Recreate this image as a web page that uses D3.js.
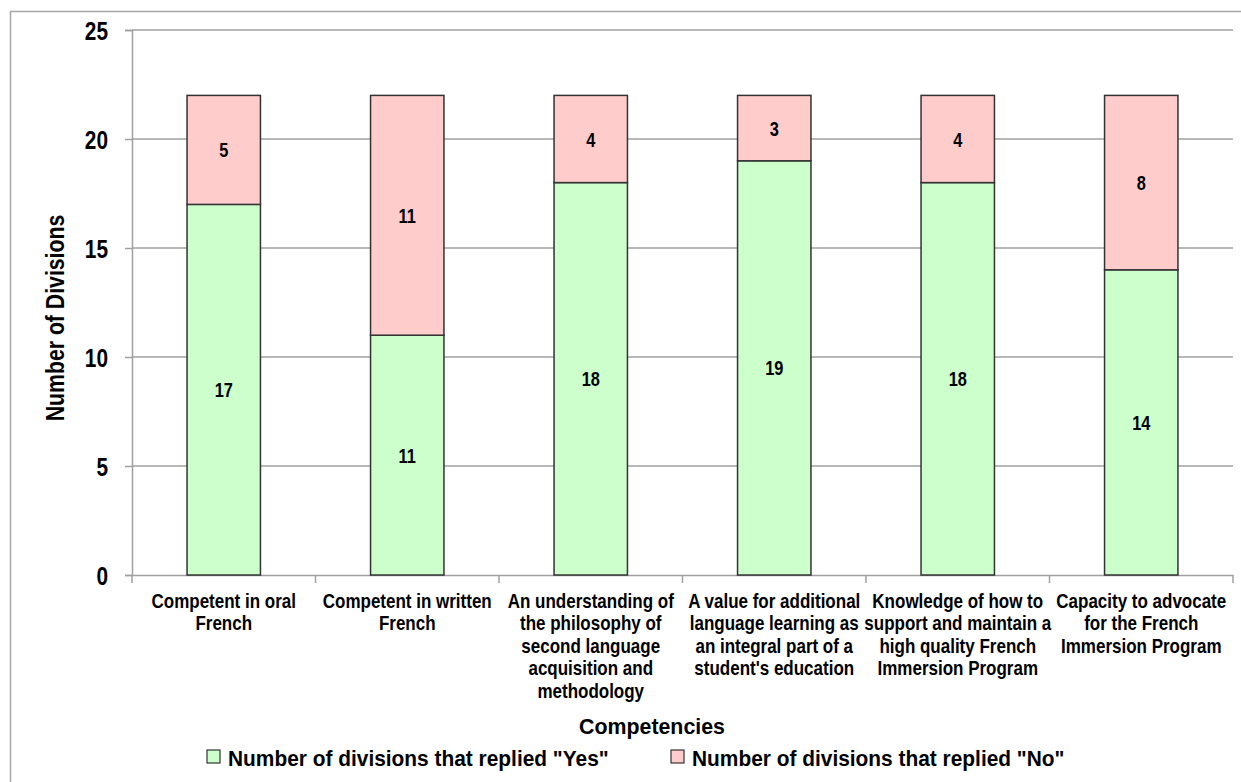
<!DOCTYPE html>
<html>
<head>
<meta charset="utf-8">
<script src="https://cdn.jsdelivr.net/npm/d3@7"></script>
<style>
  html, body { margin: 0; padding: 0; background: #fff; }
  svg { display: block; }
  text { font-family: "Liberation Sans", Arial, sans-serif; font-weight: bold; fill: #000; }
</style>
</head>
<body>
<svg id="chart" width="1241" height="782"></svg>
<script>
const categories = [
  "Competent in oral\nFrench",
  "Competent in written\nFrench",
  "An understanding of\nthe philosophy of\nsecond language\nacquisition and\nmethodology",
  "A value for additional\nlanguage learning as\nan integral part of a\nstudent's education",
  "Knowledge of how to\nsupport and maintain a\nhigh quality French\nImmersion Program",
  "Capacity to advocate\nfor the French\nImmersion Program"
];
const yesValues = [17, 11, 18, 19, 18, 14];
const noValues = [5, 11, 4, 3, 4, 8];
const seriesNames = ['Number of divisions that replied "Yes"', 'Number of divisions that replied "No"'];
const yTicks = [0, 5, 10, 15, 20, 25];
const xTitle = "Competencies";
const yTitle = "Number of Divisions";

const svg = d3.select("#chart");
const zeroY = 575;

// helper: condensed text (horizontal squash)
function label(parent, x, y, text, size, sx, anchor, lineH, rot) {
  const g = parent.append("g")
    .attr("transform", `translate(${x},${y})` + (rot ? ` rotate(${rot})` : "") + ` scale(${sx},1)`);
  const t = g.append("text").attr("text-anchor", anchor || "middle").style("font-size", size + "px");
  String(text).split("\n").forEach((line, j) => {
    t.append("tspan").attr("x", 0).attr("y", j * (lineH || 0)).text(line);
  });
  return g;
}

// outer border
svg.append("rect").attr("x", 10.5).attr("y", 11.5).attr("width", 1240).attr("height", 780)
  .attr("fill", "none").attr("stroke", "#a6a6a6").attr("stroke-width", 1.5);

const x = d3.scaleBand().domain(d3.range(categories.length)).range([132, 1233]).padding(0);
const y = d3.scaleLinear().domain([0, 25]).range([zeroY, 30]);

// gridlines
svg.append("g").selectAll("line").data(yTicks.filter(d => d > 0)).join("line")
  .attr("x1", 132).attr("x2", 1233)
  .attr("y1", d => y(d)).attr("y2", d => y(d))
  .attr("stroke", "#a0a0a0").attr("stroke-width", 1.5);

// y axis
const yAxis = svg.append("g").attr("transform", "translate(132,0)")
  .call(d3.axisLeft(y).tickValues(yTicks).tickSize(7).tickFormat(""));
yAxis.select(".domain").attr("stroke", "#a0a0a0").attr("stroke-width", 1.5);
yAxis.selectAll(".tick line").attr("stroke", "#a0a0a0").attr("stroke-width", 1.5);
yTicks.forEach(v => label(svg, 108, y(v) + 9.5, v, 26, 0.8, "end"));

// x axis
const xAxis = svg.append("g").attr("transform", `translate(0,${zeroY})`)
  .call(d3.axisBottom(x).tickValues([]).tickSizeOuter(0));
xAxis.select(".domain").attr("stroke", "#a0a0a0").attr("stroke-width", 1.5);
const tickPos = d3.range(categories.length + 1).map(i => i < categories.length ? x(i) : x(categories.length - 1) + x.bandwidth());
xAxis.selectAll("line.ct").data(tickPos).join("line").attr("class", "ct")
  .attr("x1", d => d).attr("x2", d => d).attr("y1", 0).attr("y2", 8)
  .attr("stroke", "#a0a0a0").attr("stroke-width", 1.5);

// category labels
categories.forEach((c, i) => label(svg, x(i) + x.bandwidth() / 2, 608, c, 20, 0.85, "middle", 22.5));

// bars
const barW = x.bandwidth() * 0.4;
const bx = i => x(i) + (x.bandwidth() - barW) / 2;
const stack = categories.map((c, i) => ({ i, yes: yesValues[i], no: noValues[i] }));
const colors = ["#ccffcc", "#ffcccc"];

svg.append("g").selectAll("rect").data(stack).join("rect")
  .attr("x", d => bx(d.i)).attr("width", barW)
  .attr("y", d => y(d.yes)).attr("height", d => y(0) - y(d.yes))
  .attr("fill", colors[0]).attr("stroke", "#333").attr("stroke-width", 1.5);
svg.append("g").selectAll("rect").data(stack).join("rect")
  .attr("x", d => bx(d.i)).attr("width", barW)
  .attr("y", d => y(d.yes + d.no)).attr("height", d => y(d.yes) - y(d.yes + d.no))
  .attr("fill", colors[1]).attr("stroke", "#333").attr("stroke-width", 1.5);

// value labels
stack.forEach(d => {
  label(svg, bx(d.i) + barW / 2, y(d.yes / 2) + 7.5, d.yes, 20, 0.82, "middle");
  label(svg, bx(d.i) + barW / 2, y(d.yes + d.no / 2) + 7.5, d.no, 20, 0.82, "middle");
});

// axis titles
label(svg, 652, 734, xTitle, 22, 0.97, "middle");
label(svg, 64, 318, yTitle, 25, 0.85, "middle", 0, -90);

// legend
const legX = [207, 671];
seriesNames.forEach((n, k) => {
  svg.append("rect").attr("x", legX[k]).attr("y", 750).attr("width", 13).attr("height", 13)
    .attr("fill", colors[k]).attr("stroke", "#333").attr("stroke-width", 1.2);
  label(svg, legX[k] + 21, 766, n, 22, 0.95, "start");
});
</script>
</body>
</html>
